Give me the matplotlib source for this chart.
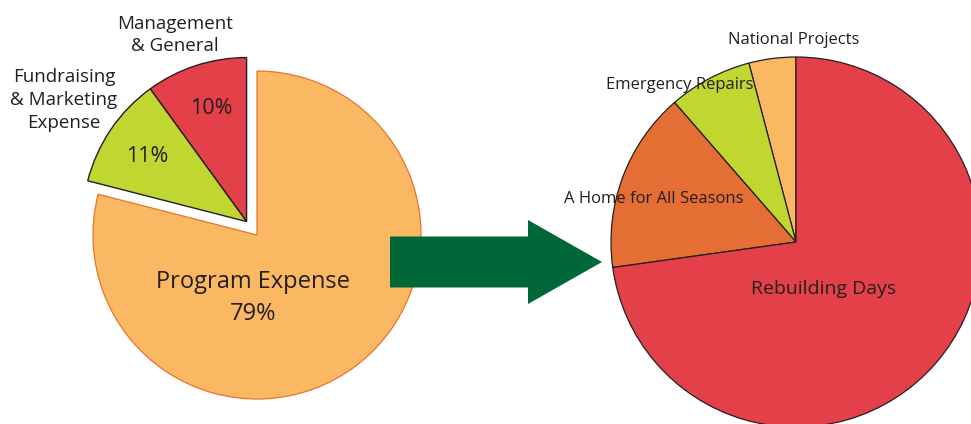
"""Expense breakdown: two pies joined by an arrow"""

import numpy as np
import matplotlib.pyplot as plt
from matplotlib.patches import FancyArrow

plt.rcParams['font.family'] = ['Open Sans', 'DejaVu Sans']

# data
left_labels = ["Management\n& General", "Fundraising\n& Marketing\nExpense",
               "Program Expense"]
left_values = [10, 11, 79]
left_colors = ["#E4404A", "#BFD730", "#FBB862"]

right_labels = ["National Projects", "Emergency Repairs",
                "A Home for All Seasons", "Rebuilding Days"]
right_values = [4.1, 7.3, 15.8, 72.8]
right_colors = ["#FBB862", "#BFD730", "#E46E34", "#E4404A"]

text_color = "#231F20"

W, H = 971, 424
fig = plt.figure(figsize=(W / 100, H / 100), dpi=100)
ax = fig.add_axes([0, 0, 1, 1])

# left pie
lc = (257, 189)
lr = 164
wedges, _ = ax.pie(left_values, colors=left_colors, startangle=90,
                   counterclock=True, radius=lr, center=lc,
                   wedgeprops=dict(edgecolor=text_color, linewidth=1.0))
wedges[2].set_edgecolor("#E8732F")
wedges[2].set_linewidth(0.9)

# pull the two small slices out together
frac_small = sum(left_values[:2]) / sum(left_values)
mid = np.deg2rad(90 + 360 * frac_small / 2)
shift = 17
for w in wedges[:2]:
    w.set_center((lc[0] + shift * np.cos(mid), lc[1] + shift * np.sin(mid)))

fs_small = 13.5
ax.text(175, 389, left_labels[0], ha='center', va='center',
        fontsize=fs_small, color=text_color, linespacing=1.35)
ax.text(64, 324, left_labels[1], ha='center', va='center',
        fontsize=fs_small, color=text_color, linespacing=1.35)
ax.text(211, 316, f"{left_values[0]}%", ha='center', va='center',
        fontsize=15.5, color=text_color)
ax.text(147, 267, f"{left_values[1]}%", ha='center', va='center',
        fontsize=15.5, color=text_color)
ax.text(253, 126, f"{left_labels[2]}\n{left_values[2]}%", ha='center',
        va='center', fontsize=17, color=text_color, linespacing=1.4)

# right pie
rc = (796, 182)
rr = 185
ax.pie(right_values, colors=right_colors, startangle=90, counterclock=True,
       radius=rr, center=rc,
       wedgeprops=dict(edgecolor=text_color, linewidth=0.9))

fs_right = 12
ax.text(794, 384, right_labels[0], ha='center', va='center',
        fontsize=fs_right, color=text_color)
ax.text(680, 339, right_labels[1], ha='center', va='center',
        fontsize=fs_right, color=text_color)
ax.text(654, 225, right_labels[2], ha='center', va='center',
        fontsize=fs_right, color=text_color)
ax.text(824, 135, right_labels[3], ha='center', va='center',
        fontsize=14, color=text_color)

# arrow between the pies
arrow = FancyArrow(390, 162, 212, 0, width=51, head_width=84,
                   head_length=74, length_includes_head=True,
                   color="#006838", linewidth=0, zorder=5)
ax.add_patch(arrow)

ax.set_xlim(0, W)
ax.set_ylim(0, H)
ax.set_aspect('equal')
ax.axis('off')

fig.savefig("out.png", dpi=100)
